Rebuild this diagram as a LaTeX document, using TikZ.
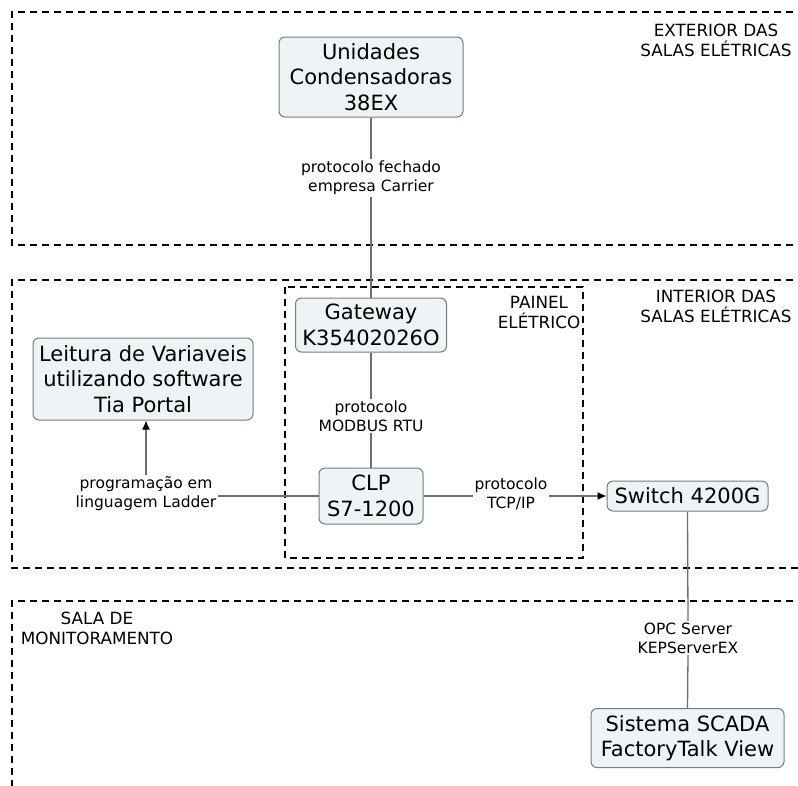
\documentclass[tikz,border=0pt]{standalone}
\usepackage{fontspec}
\setmainfont{DejaVu Sans}
\usetikzlibrary{arrows.meta}
\definecolor{boxfill}{HTML}{EEF4F6}
\definecolor{boxline}{HTML}{7A7A7A}
\definecolor{conn}{HTML}{6E6E6E}
\tikzset{
  region/.style={draw=black, line width=1.8pt, dash pattern=on 7pt off 5pt},
  box/.style={draw=boxline, fill=boxfill, rounded corners=6pt, line width=1pt, align=center, inner sep=0pt, font=\fontsize{21}{25.5}\selectfont},
  lbl/.style={align=center, inner sep=1.5pt, font=\fontsize{15.5}{19}\selectfont},
  reglbl/.style={align=center, inner sep=0pt, font=\fontsize{16.8}{20}\selectfont},
  conn/.style={draw=conn, line width=1.3pt},
  arr/.style={conn, -{Latex[length=9pt,width=8pt,color=black]}}
}
\begin{document}
\begin{tikzpicture}[x=1pt,y=-1pt]
\useasboundingbox (0,0) rectangle (798,785);
% regions
\draw[region] (805,12) -- (12,12) -- (12,245) -- (805,245);
\draw[region] (805,280) -- (12,280) -- (12,568) -- (805,568);
\draw[region] (805,601) -- (12,601) -- (12,795);
\draw[region] (285,287) rectangle (583,558);
% region labels
\node[reglbl] (ext) at (716,40) {EXTERIOR DAS\\SALAS ELÉTRICAS};
\node[reglbl] (int) at (716,306) {INTERIOR DAS\\SALAS ELÉTRICAS};
\node[reglbl] (pai) at (539,312) {PAINEL\\ELÉTRICO};
\node[reglbl] (mon) at (97,628) {SALA DE\\MONITORAMENTO};
% nodes
\node[box, minimum width=184pt, minimum height=80pt] (uc) at (371,77) {Unidades\\Condensadoras\\38EX};
\node[box, minimum width=151pt, minimum height=54pt] (gw) at (371,325) {Gateway\\K35402026O};
\node[box, minimum width=220pt, minimum height=82pt] (lv) at (143,379) {Leitura de Variaveis\\utilizando software\\Tia Portal};
\node[box, minimum width=104pt, minimum height=56pt] (clp) at (371,496) {CLP\\S7-1200};
\node[box, minimum width=161pt, minimum height=30pt] (sw) at (687.5,496) {Switch 4200G};
\node[box, minimum width=193pt, minimum height=59pt] (sc) at (687.5,738) {Sistema SCADA\\FactoryTalk View};
% labels
\node[lbl] (l1) at (371,178) {protocolo fechado\\empresa Carrier};
\node[lbl] (l2) at (371,416) {protocolo\\MODBUS RTU};
\node[lbl] (l3) at (146,494) {programação em\\linguagem Ladder};
\node[lbl] (l4) at (511,494) {protocolo\\TCP/IP};
\node[lbl] (l5) at (688,638) {OPC Server\\KEPServerEX};
% connectors
\draw[conn] (uc.south) -- (l1.north);
\draw[conn] (l1.south) -- (gw.north);
\draw[conn] (gw.south) -- (l2.north);
\draw[conn] (l2.south) -- (clp.north);
\draw[conn] (clp.west) -- (l3.east |- clp.west);
\draw[arr] (l3.north) -- (l3.north |- lv.south);
\draw[conn] (clp.east) -- (l4.west |- clp.east);
\draw[arr] (l4.east |- sw.west) -- (sw.west);
\draw[conn] (sw.south) -- (l5.north);
\draw[conn] (l5.south) -- (sc.north);
\end{tikzpicture}
\end{document}
